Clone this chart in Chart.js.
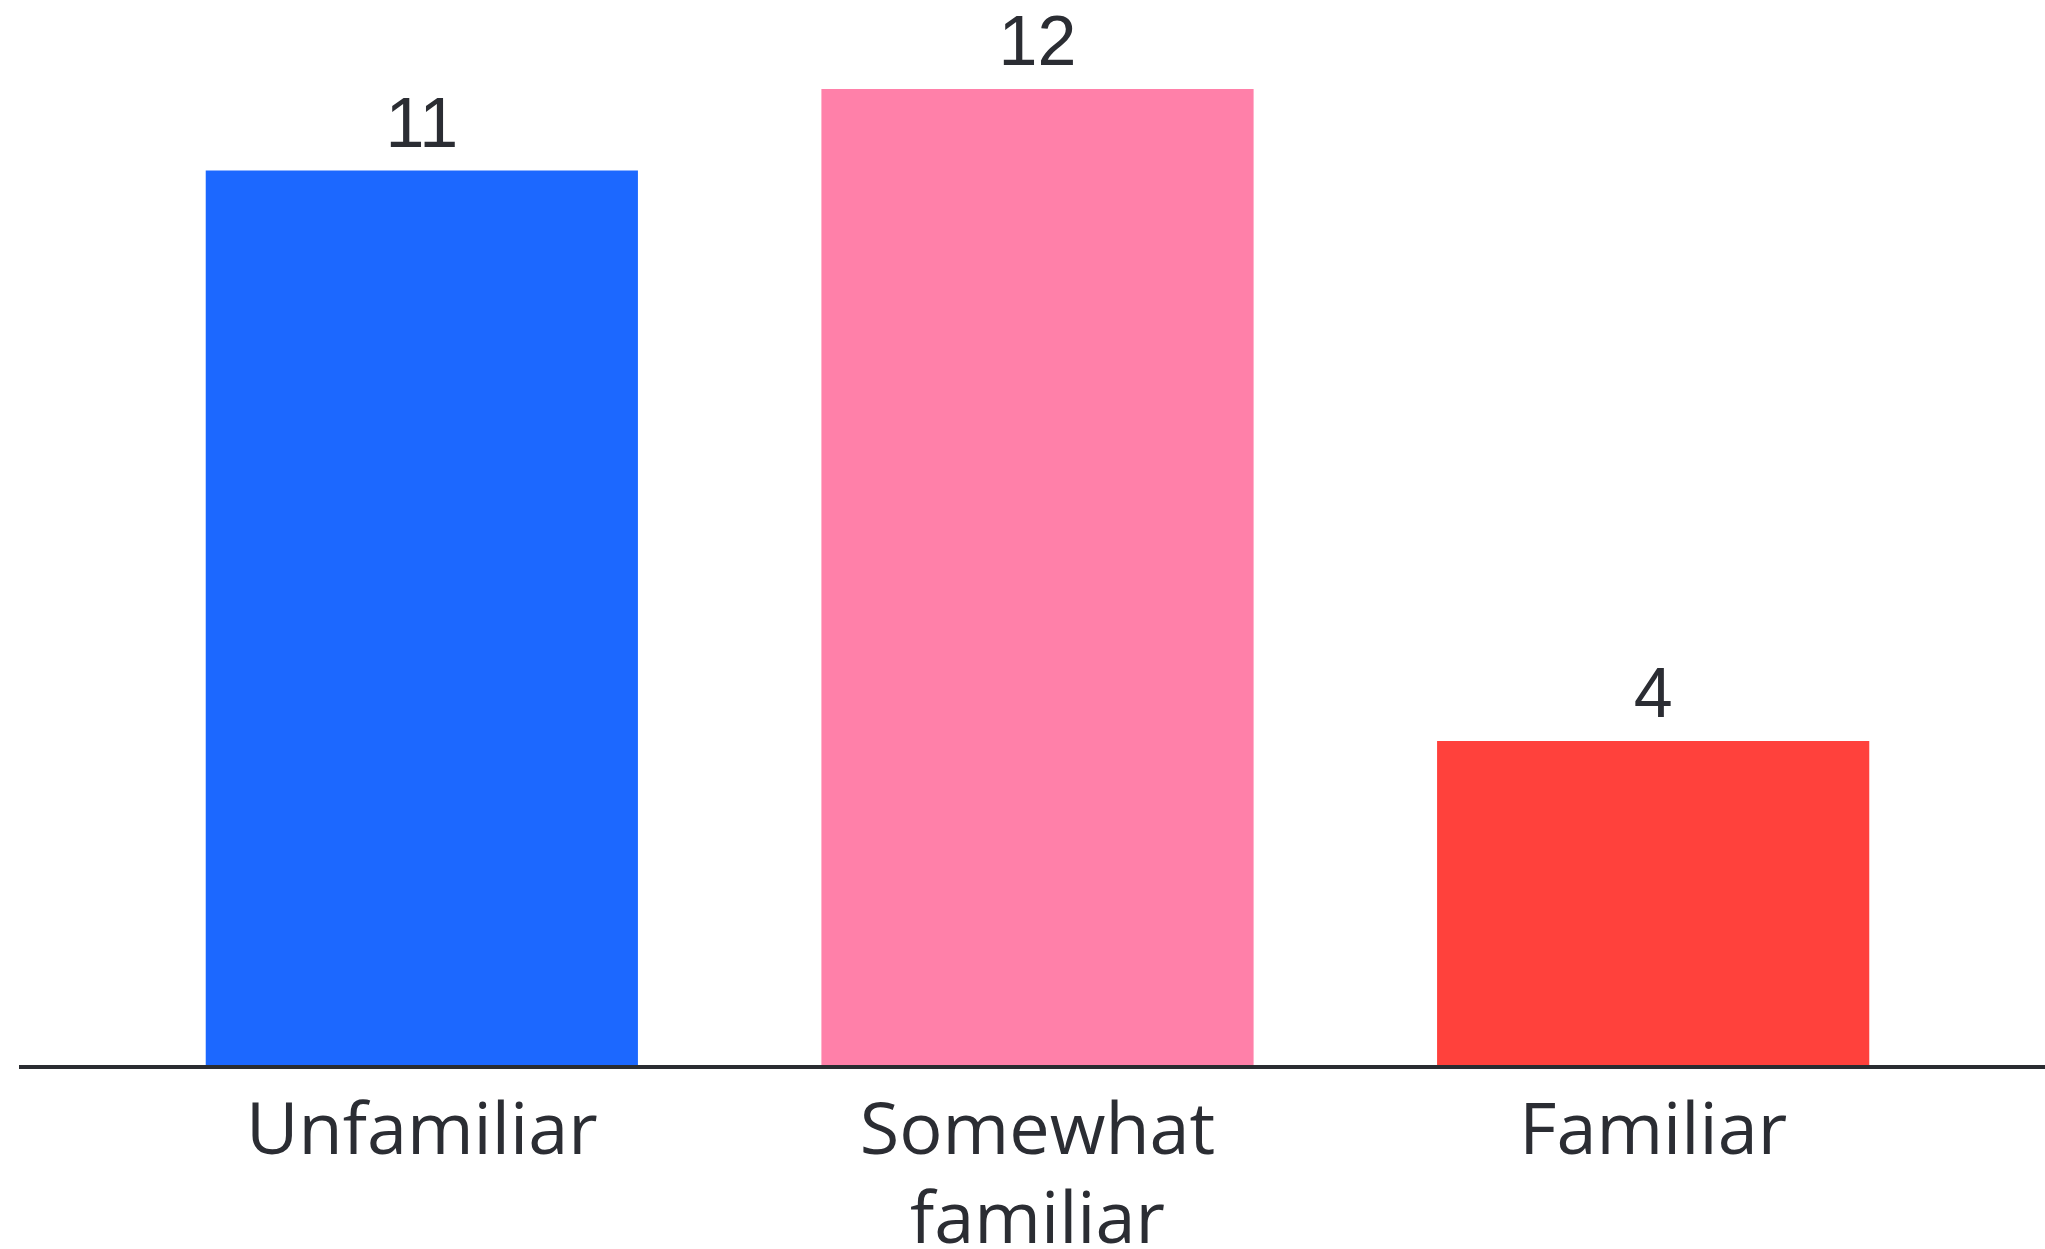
<!DOCTYPE html>
<html>
<head>
<meta charset="utf-8">
<script src="https://cdn.jsdelivr.net/npm/chart.js@4.4.1/dist/chart.umd.min.js"></script>
<style>
  html, body { margin: 0; padding: 0; background: #ffffff; }
  #wrap { width: 2045px; height: 1249px; }
</style>
</head>
<body>
<div id="wrap"><canvas id="c" width="2045" height="1249"></canvas></div>
<script>
const categories = [["Unfamiliar"], ["Somewhat", "familiar"], ["Familiar"]];
const counts = [11, 12, 4];
const barColors = ["#1c68ff", "#ff80a9", "#ff413c"];
const yMin = 0;
const yMax = 12;

const textColor = "#2b2d33";

const extras = {
  id: "extras",
  afterDatasetsDraw(chart) {
    const ctx = chart.ctx;
    const yScale = chart.scales.y;
    const meta = chart.getDatasetMeta(0);
    const y0 = yScale.getPixelForValue(0);
    ctx.save();
    ctx.strokeStyle = "#2a2c31";
    ctx.lineWidth = 4;
    ctx.beginPath();
    ctx.moveTo(19, y0);
    ctx.lineTo(chart.width, y0);
    ctx.stroke();
    ctx.fillStyle = textColor;
    ctx.font = '70px "Liberation Sans", Arial, sans-serif';
    ctx.textAlign = "center";
    ctx.textBaseline = "alphabetic";
    meta.data.forEach((bar, i) => {
      ctx.fillText(String(counts[i]), bar.x, bar.y - 24);
    });
    ctx.restore();
  }
};

new Chart(document.getElementById("c"), {
  type: "bar",
  data: {
    labels: categories,
    datasets: [{
      data: counts,
      backgroundColor: barColors,
      borderWidth: 0,
      categoryPercentage: 1.0,
      barPercentage: 0.702
    }]
  },
  options: {
    responsive: false,
    animation: false,
    devicePixelRatio: 1,
    layout: { padding: { left: 114, right: 84, top: 89, bottom: 0 } },
    plugins: {
      legend: { display: false },
      tooltip: { enabled: false },
      title: { display: false }
    },
    scales: {
      x: {
        grid: { display: false, drawTicks: false },
        border: { display: false },
        ticks: {
          color: textColor,
          font: { family: "'Open Sans', Lato, sans-serif", size: 72, lineHeight: 1.24 },
          padding: 22,
          maxRotation: 0,
          autoSkip: false
        },
        afterFit: (scale) => { scale.height = 182; }
      },
      y: {
        display: false,
        min: yMin,
        max: yMax
      }
    }
  },
  plugins: [extras]
});
</script>
</body>
</html>
